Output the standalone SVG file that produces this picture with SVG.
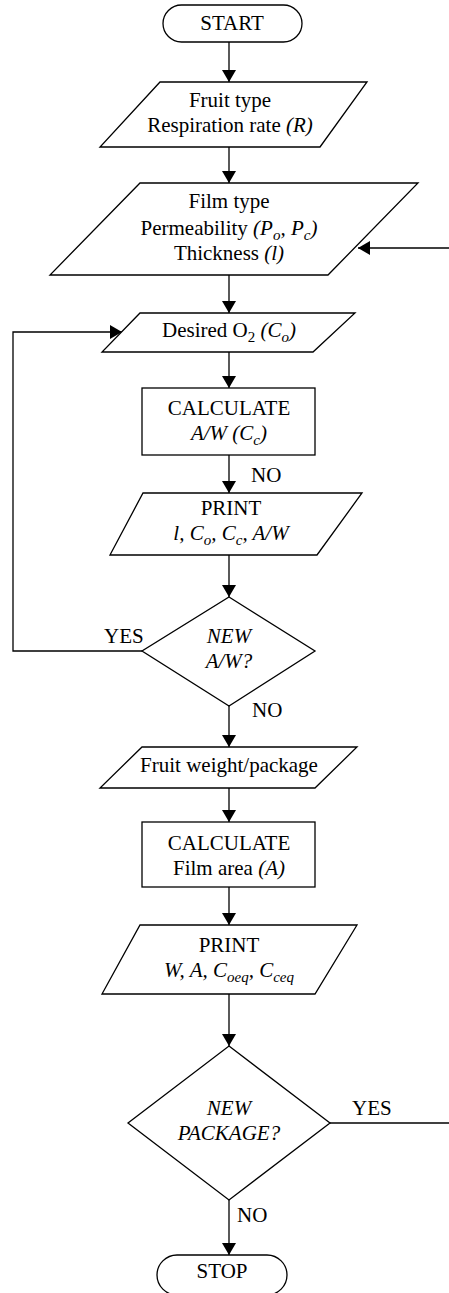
<svg xmlns="http://www.w3.org/2000/svg" width="449" height="1293" viewBox="0 0 449 1293">
<style>
.s{fill:#fff;stroke:#000;stroke-width:1.3}
.c{fill:none;stroke:#000;stroke-width:1.3}
text{font-family:"Liberation Serif","Times New Roman",serif;font-size:21px;fill:#000}
.m{text-anchor:middle}
.i{font-style:italic}
.sub{font-size:15px}
</style>
<defs>
<marker id="ah" markerUnits="userSpaceOnUse" markerWidth="12" markerHeight="14" viewBox="0 0 12 14" refX="12" refY="7" orient="auto">
<path d="M0,0 L12,7 L0,14 Z" fill="#000"/>
</marker>
</defs>
<g id="connectors">
<line class="c" x1="229" y1="42" x2="229" y2="82" marker-end="url(#ah)"/>
<line class="c" x1="229" y1="147" x2="229" y2="183" marker-end="url(#ah)"/>
<line class="c" x1="449" y1="248" x2="358" y2="248" marker-end="url(#ah)"/>
<line class="c" x1="229" y1="275" x2="229" y2="313" marker-end="url(#ah)"/>
<line class="c" x1="229" y1="352" x2="229" y2="388" marker-end="url(#ah)"/>
<line class="c" x1="229" y1="455" x2="229" y2="493" marker-end="url(#ah)"/>
<line class="c" x1="229" y1="555" x2="229" y2="597" marker-end="url(#ah)"/>
<polyline class="c" points="142,651 13,651 13,332 122,332" marker-end="url(#ah)"/>
<line class="c" x1="229" y1="706" x2="229" y2="747" marker-end="url(#ah)"/>
<line class="c" x1="229" y1="788" x2="229" y2="822" marker-end="url(#ah)"/>
<line class="c" x1="229" y1="887" x2="229" y2="925" marker-end="url(#ah)"/>
<line class="c" x1="229" y1="994" x2="229" y2="1046" marker-end="url(#ah)"/>
<line class="c" x1="330" y1="1123" x2="449" y2="1123"/>
<line class="c" x1="229" y1="1200" x2="229" y2="1255" marker-end="url(#ah)"/>
<text x="251" y="482">NO</text>
<text x="104" y="643">YES</text>
<text x="252" y="717">NO</text>
<text x="352" y="1115">YES</text>
<text x="237" y="1222">NO</text>
</g>
<g id="start">
<rect class="s" x="163" y="5" width="139" height="37" rx="18.5"/>
<text class="m" x="232" y="30">START</text>
</g>
<g id="fruit">
<polygon class="s" points="160,82 367,82 320,147 100,147"/>
<text class="m" x="230" y="107">Fruit type</text>
<text class="m" x="230" y="132">Respiration rate <tspan class="i">(R)</tspan></text>
</g>
<g id="film">
<polygon class="s" points="140,183 418,183 328,275 50,275"/>
<text class="m" x="229" y="208">Film type</text>
<text class="m" x="229" y="235">Permeability <tspan class="i">(P<tspan class="sub" dy="5">o</tspan><tspan dy="-5">, P</tspan><tspan class="sub" dy="5">c</tspan><tspan dy="-5">)</tspan></tspan></text>
<text class="m" x="229" y="260">Thickness <tspan class="i">(l)</tspan></text>
</g>
<g id="desired">
<polygon class="s" points="140,313 355,313 313,352 102,352"/>
<text class="m" x="229" y="337">Desired O<tspan class="sub" dy="5">2</tspan><tspan dy="-5"> </tspan><tspan class="i">(C<tspan class="sub" dy="5">o</tspan><tspan dy="-5">)</tspan></tspan></text>
</g>
<g id="calc1">
<rect class="s" x="142" y="388" width="173" height="67"/>
<text class="m" x="229" y="415">CALCULATE</text>
<text class="m i" x="229" y="440">A/W (C<tspan class="sub" dy="5">c</tspan><tspan dy="-5">)</tspan></text>
</g>
<g id="print1">
<polygon class="s" points="143,493 362,493 317,555 110,555"/>
<text class="m" x="231" y="515">PRINT</text>
<text class="m i" x="231" y="540">l, C<tspan class="sub" dy="5">o</tspan><tspan dy="-5">, C</tspan><tspan class="sub" dy="5">c</tspan><tspan dy="-5">, A/W</tspan></text>
</g>
<g id="newaw">
<polygon class="s" points="229,597 315,651 229,706 142,651"/>
<text class="m i" x="229" y="643">NEW</text>
<text class="m i" x="229" y="668">A/W?</text>
</g>
<g id="weight">
<polygon class="s" points="142,747 357,747 315,788 100,788"/>
<text class="m" x="229" y="772">Fruit weight/package</text>
</g>
<g id="calc2">
<rect class="s" x="142" y="822" width="173" height="65"/>
<text class="m" x="229" y="850">CALCULATE</text>
<text class="m" x="229" y="875">Film area <tspan class="i">(A)</tspan></text>
</g>
<g id="print2">
<polygon class="s" points="140,925 357,925 315,994 102,994"/>
<text class="m" x="229" y="952">PRINT</text>
<text class="m i" x="229" y="977">W, A, C<tspan class="sub" dy="5">oeq</tspan><tspan dy="-5">, C</tspan><tspan class="sub" dy="5">ceq</tspan></text>
</g>
<g id="newpkg">
<polygon class="s" points="229,1046 330,1123 229,1200 128,1123"/>
<text class="m i" x="229" y="1115">NEW</text>
<text class="m i" x="229" y="1140">PACKAGE?</text>
</g>
<g id="stop">
<rect class="s" x="157" y="1255" width="130" height="40" rx="20"/>
<text class="m" x="222" y="1278">STOP</text>
</g>
</svg>
